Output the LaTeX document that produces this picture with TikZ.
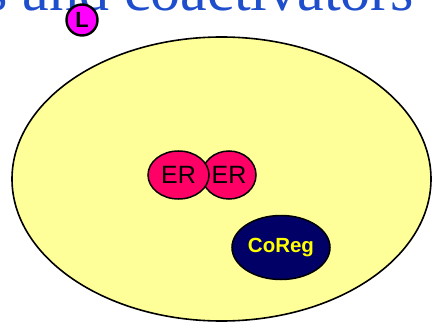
\documentclass[tikz,border=0pt]{standalone}
\usepackage{fontspec}
\setmainfont{Liberation Serif}
\newfontfamily\arialf{Liberation Sans}
\usetikzlibrary{shapes.geometric}
\definecolor{titleblue}{RGB}{31,78,205}
\definecolor{cellyellow}{RGB}{255,255,153}
\definecolor{erred}{RGB}{255,0,102}
\definecolor{corenavy}{RGB}{0,0,102}
\definecolor{ligmag}{RGB}{255,0,255}
\definecolor{coyellow}{RGB}{255,255,0}
\tikzset{
  ell/.style={ellipse, draw=black, inner sep=0pt},
  erbox/.style={ell, fill=erred, line width=1.5pt, font=\arialf\fontsize{25}{25}\selectfont},
}
\begin{document}
\begin{tikzpicture}[x=1pt,y=-1pt]
\useasboundingbox (0,0) rectangle (432,324);
\node[anchor=base west, inner sep=0pt, text=titleblue, font=\fontsize{60}{60}\selectfont] (title) at (-16,11) {s and coactivators};
\node[ell, fill=cellyellow, line width=1.6pt, minimum width=419pt, minimum height=284pt] (cell) at (221.5,179) {};
\node[erbox, minimum width=54pt, minimum height=48pt] (er2) at (229,175) {ER};
\node[erbox, minimum width=61pt, minimum height=48pt] (er1) at (178.5,175) {ER};
\node[ell, fill=corenavy, line width=1.5pt, minimum width=98pt, minimum height=64pt, text=coyellow, font=\arialf\bfseries\fontsize{20.5}{20.5}\selectfont] (coreg) at (281,247.5) {CoReg};
\node[circle, draw=black, fill=ligmag, line width=2.4pt, minimum size=31pt, inner sep=0pt, font=\arialf\bfseries\fontsize{22}{22}\selectfont] (lig) at (82,20) {L};
\end{tikzpicture}
\end{document}
